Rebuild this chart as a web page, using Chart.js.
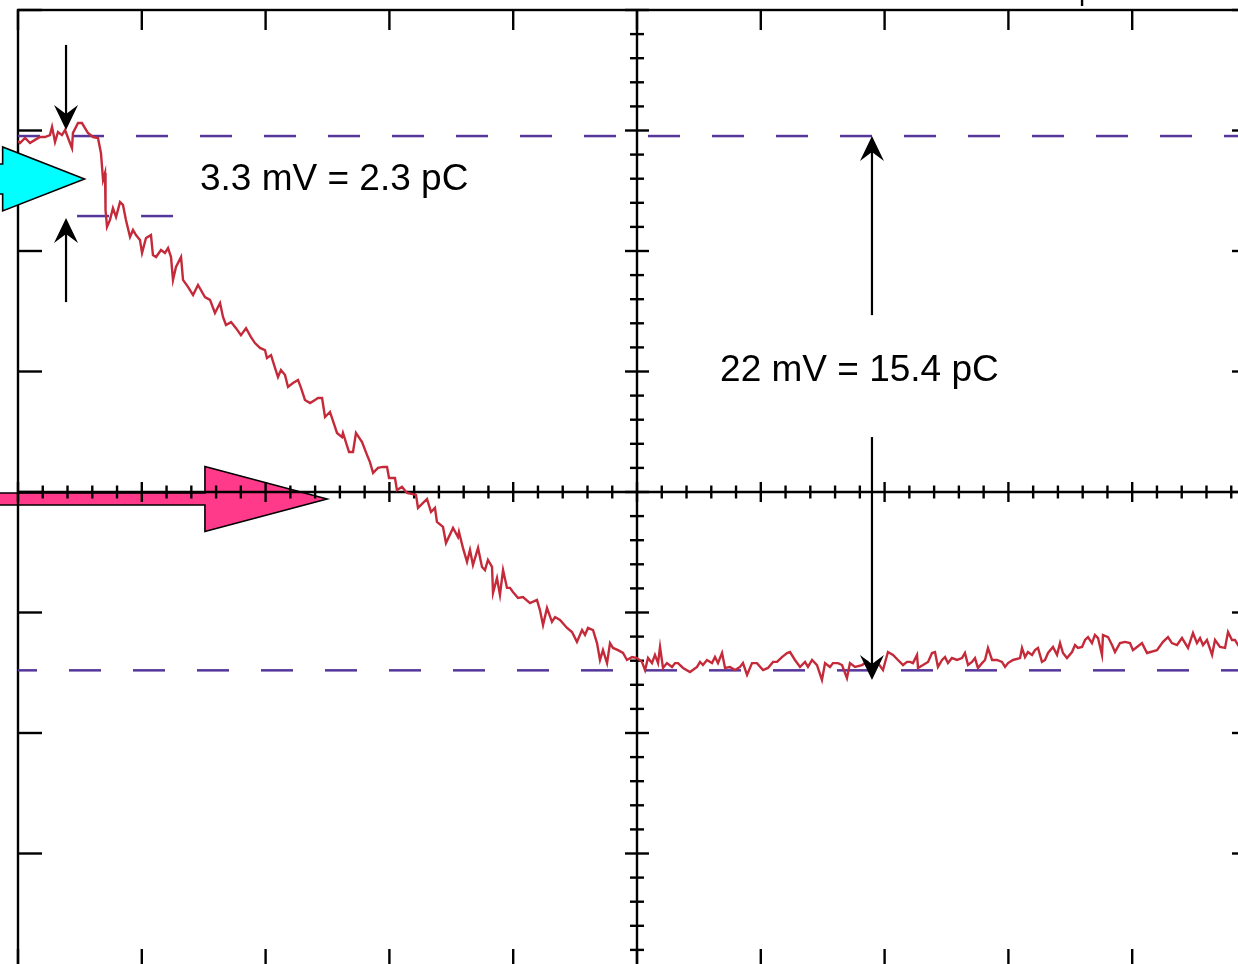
<!DOCTYPE html>
<html>
<head>
<meta charset="utf-8">
<script src="https://cdn.jsdelivr.net/npm/chart.js@4"></script>
<style>
  html, body { margin: 0; padding: 0; background: #fff; overflow: hidden; }
</style>
</head>
<body>
<canvas id="scope" width="1260" height="980"></canvas>
<script>
// time in divisions (0..10), voltage in mV (5 mV / div)
const traceTime = [
  0.000,0.016,0.057,0.097,0.137,0.178,0.218,0.258,0.275,0.299,0.323,0.355,0.380,0.420,0.436,0.444,0.485,0.517,0.541,0.565,0.606,0.646,
  0.670,0.687,0.703,0.707,0.719,0.743,0.767,0.792,0.824,0.848,0.872,0.905,0.929,0.953,0.985,1.002,1.034,1.074,1.090,1.115,
  1.155,1.187,1.212,1.236,1.252,1.276,1.317,1.333,1.373,1.414,1.454,1.510,1.551,1.591,1.632,1.656,1.680,1.721,1.761,1.801,
  1.842,1.882,1.914,1.955,1.995,2.011,2.044,2.076,2.100,2.124,2.157,2.181,2.221,2.262,2.286,2.318,2.359,2.399,
  2.423,2.456,2.480,2.520,2.577,2.617,2.625,2.674,2.706,2.730,2.779,2.819,2.843,2.868,2.908,2.948,2.981,2.997,3.045,3.061,
  3.102,3.142,3.215,3.231,3.304,3.336,3.368,3.384,3.433,3.457,3.514,3.554,3.562,3.594,3.627,3.651,3.675,3.716,3.748,3.772,
  3.796,3.829,3.837,3.869,3.893,3.918,3.950,3.974,3.998,4.039,4.079,4.136,4.192,4.216,4.241,4.273,4.313,4.338,4.378,4.435,
  4.475,4.515,4.556,4.580,4.604,4.645,4.677,
  4.701,4.725,4.758,4.782,4.806,4.847,4.887,4.919,4.960,5.000,5.040,5.065,5.089,5.121,5.145,5.170,5.186,5.210,5.242,5.283,
  5.307,5.331,5.372,5.428,5.485,5.509,5.533,5.565,5.606,5.630,5.654,5.687,5.711,5.751,5.792,5.832,5.856,5.889,5.929,5.969,
  6.018,6.058,6.099,6.131,6.171,6.212,6.236,6.276,6.317,6.357,6.381,6.414,6.454,6.494,6.519,6.559,6.583,6.624,6.656,6.696,
  6.720,6.761,6.817,6.858,6.906,6.947,6.987,7.027,7.068,7.108,7.149,7.181,
  7.205,7.229,7.262,7.270,7.310,7.351,7.383,7.407,7.431,7.464,7.488,7.512,7.544,7.585,7.625,7.649,7.674,7.706,7.730,7.754,
  7.787,7.811,7.835,7.868,7.908,7.948,7.973,7.997,8.037,8.094,8.110,8.134,8.158,8.191,8.215,8.239,8.271,8.296,8.320,8.360,
  8.393,8.417,8.441,8.473,8.514,8.538,8.562,8.595,8.619,8.643,8.675,8.699,8.724,8.756,8.764,8.805,8.837,8.861,8.901,8.942,
  8.982,9.006,9.039,9.079,9.120,9.200,9.249,9.289,9.321,9.362,9.402,9.451,9.491,9.523,9.548,9.572,9.604,9.645,9.669,9.709,
  9.750,9.774,9.806,9.830,9.855,9.911,9.992
];
const traceMv = [
  14.56,14.48,14.69,14.48,14.61,14.73,14.73,14.81,15.15,14.52,14.94,14.81,15.02,14.48,14.27,14.90,15.31,15.31,15.10,14.90,14.73,14.69,
  14.07,12.95,13.24,11.70,11.00,11.29,11.78,11.41,12.03,11.91,11.29,10.58,10.87,10.66,10.46,9.92,10.54,10.66,9.83,9.75,
  10.04,9.92,10.12,9.75,8.80,9.34,9.75,8.80,8.51,8.17,8.59,8.09,7.97,7.43,7.84,7.26,6.93,7.05,6.80,6.51,
  6.80,6.43,6.18,5.98,5.89,5.56,5.68,5.15,4.77,5.06,4.85,4.36,4.52,4.65,4.32,3.82,3.69,3.82,
  3.90,3.90,3.11,3.32,2.45,2.28,2.45,1.66,1.66,2.45,2.07,1.54,1.24,0.79,1.00,1.04,1.04,0.58,0.58,0.08,
  0.21,-0.04,-0.12,-0.66,-0.29,-0.83,-0.66,-1.24,-1.45,-2.12,-1.49,-1.87,-1.66,-2.32,-2.90,-2.41,-3.03,-2.32,-3.11,-3.24,
  -2.82,-3.11,-4.19,-3.57,-4.27,-3.24,-3.98,-3.98,-4.15,-4.40,-4.36,-4.61,-4.48,-4.90,-5.52,-4.81,-5.39,-5.19,-5.31,-5.64,
  -5.81,-6.22,-5.73,-5.93,-5.64,-5.73,-6.27,
  -6.97,-6.56,-7.10,-6.27,-6.47,-6.56,-6.68,-6.97,-6.85,-6.89,-7.05,-7.39,-6.89,-7.10,-6.76,-7.10,-6.43,-7.30,-7.10,-7.26,
  -7.10,-7.10,-7.30,-7.47,-7.26,-7.05,-7.18,-6.97,-7.10,-6.85,-7.10,-6.68,-7.30,-7.26,-7.39,-7.26,-7.10,-7.59,-7.10,-7.10,
  -7.39,-7.30,-7.05,-7.05,-6.85,-6.68,-6.64,-6.97,-7.26,-7.05,-7.26,-6.97,-7.18,-7.80,-7.10,-7.26,-7.10,-7.10,-7.18,-7.72,
  -7.10,-7.26,-7.18,-7.05,-7.39,-7.10,-7.39,-6.64,-6.76,-6.97,-7.18,-7.05,
  -7.05,-7.10,-6.76,-7.30,-7.18,-7.05,-6.68,-6.64,-7.26,-6.97,-6.85,-7.10,-6.89,-6.97,-6.89,-6.68,-7.18,-7.05,-6.89,-7.30,
  -7.10,-6.97,-6.47,-6.97,-6.97,-7.05,-7.26,-7.10,-6.97,-6.89,-6.47,-6.85,-6.64,-6.76,-6.56,-6.47,-7.05,-6.97,-6.68,-6.43,
  -6.76,-6.27,-6.68,-6.89,-6.64,-6.35,-6.47,-6.43,-6.14,-6.02,-6.27,-5.93,-6.06,-6.76,-5.93,-6.02,-6.35,-6.64,-6.27,-6.22,
  -6.27,-6.56,-6.43,-6.27,-6.68,-6.56,-6.22,-6.02,-6.27,-6.35,-6.06,-6.47,-5.85,-6.27,-6.06,-6.35,-6.14,-6.76,-6.14,-6.43,
  -6.47,-5.81,-6.14,-6.14,-6.35,-6.14,-6.22
];

// cursor levels (mV)
const topLevel = 14.77;
const bottomLevel = -7.4;
const stepLevel = 11.45;
const stepStart = 0.477, stepEnd = 1.252;

const xDivs = [0,1,2,3,4,5,6,7,8,9,10];
const yDivs = [-20,-15,-10,-5,0,5,10,15,20];

const labels = [
  { text: '3.3 mV = 2.3 pC', x: 1.47, y: 12.53 },
  { text: '22 mV = 15.4 pC', x: 5.671, y: 4.61 }
];
const arrows = [
  { x: 0.388, from: 18.55, to: 15.02 },
  { x: 0.388, from: 7.88, to: 11.37 },
  { x: 6.898, from: 7.34, to: 14.77 },
  { x: 6.898, from: 2.28, to: -7.80 }
];
const markers = [
  { base: 1.51, tip: 2.496, level: -0.29, head: 32.5, body: 6, color: '#ff3a8a', front: false },
  { base: -0.124, tip: 0.537, level: 12.99, head: 32, body: 15, color: '#00ffff', front: true }
];
const triggerPos = 8.595;

function line(ctx, x1, y1, x2, y2) {
  ctx.beginPath();
  ctx.moveTo(x1, y1);
  ctx.lineTo(x2, y2);
  ctx.stroke();
}

function drawMarker(ctx, xs, ys, m) {
  const bx = xs.getPixelForValue(m.base);
  const tx = xs.getPixelForValue(m.tip);
  const cy = ys.getPixelForValue(m.level);
  ctx.beginPath();
  ctx.moveTo(-5, cy - m.body);
  ctx.lineTo(bx, cy - m.body);
  ctx.lineTo(bx, cy - m.head);
  ctx.lineTo(tx, cy);
  ctx.lineTo(bx, cy + m.head);
  ctx.lineTo(bx, cy + m.body);
  ctx.lineTo(-5, cy + m.body);
  ctx.closePath();
  ctx.fillStyle = m.color;
  ctx.fill();
  ctx.lineWidth = 1.6;
  ctx.strokeStyle = '#000';
  ctx.stroke();
}

function drawArrow(ctx, xs, ys, a) {
  const px = xs.getPixelForValue(a.x);
  const y1 = ys.getPixelForValue(a.from);
  const y2 = ys.getPixelForValue(a.to);
  const dir = y2 > y1 ? 1 : -1;
  ctx.strokeStyle = '#000';
  ctx.lineWidth = 2.2;
  line(ctx, px, y1, px, y2 - dir * 10);
  ctx.beginPath();
  ctx.moveTo(px, y2);
  ctx.lineTo(px - 12, y2 - dir * 25);
  ctx.lineTo(px, y2 - dir * 16);
  ctx.lineTo(px + 12, y2 - dir * 25);
  ctx.closePath();
  ctx.fillStyle = '#000';
  ctx.fill();
}

const scopeFrame = {
  id: 'scopeFrame',
  beforeDatasetsDraw(chart) {
    const { ctx, chartArea: a, scales: { x, y } } = chart;
    ctx.save();
    markers.filter(m => !m.front).forEach(m => drawMarker(ctx, x, y, m));

    ctx.strokeStyle = '#000';
    ctx.lineWidth = 2.4;
    ctx.strokeRect(a.left, a.top, a.right - a.left, a.bottom - a.top);

    // ticks on the frame
    xDivs.forEach(v => {
      const px = x.getPixelForValue(v);
      line(ctx, px, a.top, px, a.top + 20);
      line(ctx, px, a.bottom - 25, px, a.bottom);
    });
    yDivs.forEach(v => {
      const py = y.getPixelForValue(v);
      line(ctx, a.left, py, a.left + 24, py);
      line(ctx, a.right - 24, py, a.right, py);
    });

    // centre cross with sub-division ticks
    const cx = x.getPixelForValue(5);
    const cy = y.getPixelForValue(0);
    line(ctx, a.left, cy, a.right, cy);
    line(ctx, cx, a.top, cx, a.bottom);
    for (let i = 0; i <= 50; i++) {
      const px = x.getPixelForValue(i / 5);
      const h = i % 5 === 0 ? 10 : 6.5;
      line(ctx, px, cy - h, px, cy + h);
    }
    for (let i = -20; i <= 20; i++) {
      const py = y.getPixelForValue(i);
      const h = i % 5 === 0 ? 12 : 7;
      line(ctx, cx - h, py, cx + h, py);
    }

    // trigger position mark above the frame
    const tp = x.getPixelForValue(triggerPos);
    line(ctx, tp, 0, tp, a.top - 4);

    markers.filter(m => m.front).forEach(m => drawMarker(ctx, x, y, m));
    ctx.restore();
  },
  afterDatasetsDraw(chart) {
    const { ctx, scales: { x, y } } = chart;
    ctx.save();
    arrows.forEach(a => drawArrow(ctx, x, y, a));
    ctx.fillStyle = '#000';
    ctx.font = '37px "Liberation Sans", Arial, Helvetica, sans-serif';
    ctx.textAlign = 'left';
    ctx.textBaseline = 'alphabetic';
    labels.forEach(l => ctx.fillText(l.text, x.getPixelForValue(l.x), y.getPixelForValue(l.y)));
    ctx.restore();
  }
};

const n = Math.min(traceTime.length, traceMv.length);
const tracePoints = [];
for (let i = 0; i < n; i++) tracePoints.push({ x: traceTime[i], y: traceMv[i] });

const cursorStyle = {
  borderColor: '#55369b',
  borderWidth: 2.5,
  borderDash: [32, 32],
  pointRadius: 0,
  fill: false
};

new Chart(document.getElementById('scope'), {
  type: 'line',
  data: {
    datasets: [
      { label: 'trace', data: tracePoints, borderColor: '#c42a3a', borderWidth: 2.4, pointRadius: 0, tension: 0, fill: false },
      { label: 'top', data: [{ x: 0, y: topLevel }, { x: 10, y: topLevel }], ...cursorStyle, borderDashOffset: 10 },
      { label: 'bottom', data: [{ x: 0, y: bottomLevel }, { x: 10, y: bottomLevel }], ...cursorStyle, borderDashOffset: 13 },
      { label: 'step', data: [{ x: stepStart, y: stepLevel }, { x: stepEnd, y: stepLevel }], ...cursorStyle, borderDashOffset: 0 }
    ]
  },
  options: {
    responsive: false,
    animation: false,
    devicePixelRatio: 1,
    layout: { padding: { left: 18, top: 10, right: 4, bottom: 6 } },
    plugins: { legend: { display: false }, tooltip: { enabled: false } },
    scales: {
      x: { type: 'linear', min: 0, max: 10, display: false },
      y: { type: 'linear', min: -20, max: 20, display: false }
    }
  },
  plugins: [scopeFrame]
});
</script>
</body>
</html>
